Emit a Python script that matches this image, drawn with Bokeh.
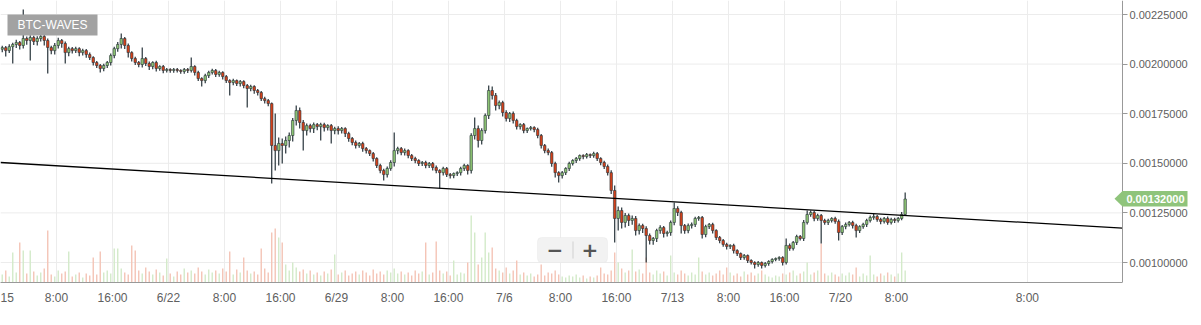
from bokeh.plotting import figure
from bokeh.models import (Range1d, FixedTicker, Label, PolyAnnotation, BoxAnnotation,
                          ColumnDataSource, PrintfTickFormatter)
from bokeh.embed import file_html
from bokeh.resources import INLINE

symbol = "BTC-WAVES"
unit = 1e-6            # prices below are in micro-BTC
first_open = 2075
closes = [
    2083, 2068, 2088, 2099, 2109, 2094, 2129, 2119, 2134, 2114,
    2129, 2139, 2119, 2084, 2068, 2094, 2119, 2104, 2058, 2078,
    2068, 2078, 2058, 2068, 2048, 2033, 2008, 1993, 1978, 1993,
    2008, 2043, 2078, 2099, 2129, 2094, 2058, 2028, 2008, 1998,
    2028, 2003, 1988, 2008, 1978, 1988, 1968, 1973, 1968, 1973,
    1968, 1963, 1973, 1968, 1988, 1958, 1927, 1917, 1942, 1958,
    1968, 1948, 1958, 1937, 1917, 1907, 1917, 1902, 1912, 1892,
    1877, 1887, 1867, 1857, 1826, 1816, 1801, 1590, 1564, 1600,
    1590, 1615, 1640, 1716, 1766, 1706, 1665, 1690, 1675, 1695,
    1685, 1695, 1680, 1690, 1665, 1675, 1665, 1675, 1650, 1625,
    1605, 1590, 1600, 1574, 1564, 1549, 1524, 1489, 1464, 1443,
    1474, 1504, 1564, 1574, 1554, 1564, 1539, 1524, 1514, 1499,
    1504, 1489, 1499, 1479, 1464, 1453, 1474, 1443, 1438, 1448,
    1453, 1474, 1489, 1464, 1640, 1675, 1615, 1665, 1741, 1867,
    1842, 1791, 1806, 1756, 1726, 1751, 1716, 1685, 1695, 1665,
    1675, 1680, 1670, 1640, 1590, 1564, 1554, 1499, 1453, 1438,
    1453, 1474, 1499, 1514, 1524, 1539, 1534, 1544, 1539, 1549,
    1524, 1504, 1484, 1453, 1363, 1222, 1262, 1202, 1237, 1212,
    1222, 1161, 1186, 1171, 1136, 1111, 1121, 1161, 1176, 1146,
    1151, 1202, 1272, 1252, 1186, 1161, 1186, 1192, 1222, 1227,
    1141, 1181, 1192, 1161, 1126, 1111, 1091, 1081, 1086, 1060,
    1045, 1025, 1035, 1010, 1000, 990, 1000, 985, 995, 1005,
    1015, 1020, 1025, 1000, 1086, 1071, 1101, 1131, 1121, 1202,
    1242, 1252, 1222, 1237, 1212, 1202, 1212, 1222, 1207, 1151,
    1181, 1192, 1202, 1186, 1161, 1181, 1192, 1212, 1227, 1232,
    1217, 1207, 1222, 1202, 1217, 1212, 1222, 1242, 1320,
]
wick_up = [
    10, 8, 12, 9, 14, 8, 146, 10, 12, 9,
    11, 15, 8, 10, 9, 12, 14, 8, 10, 9,
    8, 10, 7, 9, 8, 10, 6, 8, 7, 9,
    8, 10, 9, 12, 25, 8, 10, 7, 9, 8,
    56, 8, 10, 7, 9, 6, 8, 7, 6, 8,
    7, 6, 8, 7, 45, 6, 8, 7, 9, 8,
    9, 7, 8, 6, 8, 7, 9, 6, 8, 7,
    8, 9, 6, 8, 7, 9, 8, 5, 161, 30,
    25, 20, 15, 12, 25, 15, 12, 10, 9, 11,
    8, 10, 9, 7, 8, 9, 12, 8, 7, 9,
    8, 10, 7, 9, 8, 6, 8, 7, 9, 8,
    10, 12, 91, 9, 8, 10, 7, 8, 9, 6,
    8, 9, 7, 8, 10, 6, 9, 7, 8, 6,
    7, 8, 9, 6, 12, 56, 15, 12, 10, 25,
    20, 12, 10, 9, 12, 8, 10, 9, 7, 8,
    6, 8, 7, 9, 8, 7, 10, 8, 9, 7,
    8, 6, 9, 7, 8, 6, 7, 8, 6, 9,
    8, 7, 9, 10, 12, 25, 20, 15, 12, 10,
    15, 12, 10, 9, 12, 10, 8, 9, 12, 8,
    9, 10, 30, 12, 9, 8, 10, 9, 8, 7,
    8, 9, 7, 8, 6, 8, 7, 9, 6, 8,
    7, 6, 8, 5, 7, 6, 8, 5, 7, 6,
    6, 5, 7, 6, 35, 10, 8, 9, 7, 12,
    20, 10, 8, 9, 7, 8, 9, 6, 8, 10,
    8, 9, 7, 8, 9, 7, 8, 9, 10, 12,
    8, 9, 7, 10, 8, 9, 7, 12, 33,
]
wick_down = [
    15, 30, 12, 85, 18, 20, 15, 22, 101, 18,
    20, 15, 25, 131, 18, 20, 15, 22, 55, 18,
    15, 12, 18, 14, 16, 12, 15, 13, 20, 14,
    12, 15, 14, 16, 20, 18, 25, 15, 12, 14,
    15, 12, 18, 14, 15, 12, 14, 10, 12, 11,
    10, 12, 11, 13, 10, 15, 12, 30, 14, 12,
    11, 13, 12, 14, 12, 65, 14, 12, 15, 14,
    96, 14, 16, 15, 12, 14, 13, 192, 100, 75,
    91, 40, 35, 30, 25, 30, 101, 25, 20, 22,
    18, 70, 20, 15, 65, 18, 20, 15, 18, 16,
    14, 15, 12, 16, 14, 12, 15, 13, 14, 30,
    15, 12, 20, 18, 14, 15, 13, 12, 14, 13,
    12, 14, 13, 15, 14, 80, 14, 12, 15, 13,
    12, 14, 13, 20, 15, 20, 35, 20, 15, 18,
    20, 25, 18, 20, 15, 18, 16, 14, 15, 13,
    12, 10, 13, 14, 15, 13, 14, 16, 25, 35,
    14, 12, 13, 10, 12, 11, 13, 10, 12, 11,
    12, 14, 13, 15, 18, 121, 61, 30, 25, 28,
    22, 25, 20, 22, 136, 20, 22, 18, 16, 20,
    15, 16, 14, 18, 40, 16, 14, 15, 13, 12,
    20, 14, 12, 15, 13, 14, 12, 15, 13, 14,
    12, 13, 11, 12, 10, 20, 11, 15, 10, 12,
    10, 9, 11, 15, 10, 12, 11, 13, 10, 12,
    10, 12, 14, 11, 116, 12, 13, 11, 12, 40,
    12, 13, 11, 14, 35, 12, 11, 13, 10, 12,
    11, 14, 10, 12, 11, 13, 10, 9, 8,
]
volumes = [
    8, 12, 6, 30, 10, 40, 32, 9, 32, 11,
    7, 10, 14, 52, 8, 6, 12, 9, 11, 31,
    6, 8, 10, 5, 9, 7, 25, 8, 31, 10,
    12, 9, 34, 34, 14, 10, 8, 37, 32, 12,
    9, 15, 11, 8, 13, 10, 7, 24, 9, 6,
    11, 8, 14, 10, 12, 9, 15, 11, 8, 13,
    10, 12, 9, 14, 11, 31, 8, 13, 10, 25,
    12, 9, 11, 8, 34, 14, 10, 50, 54, 45,
    40, 18, 12, 20, 15, 11, 13, 9, 12, 8,
    10, 7, 11, 9, 13, 28, 8, 10, 12, 7,
    9, 11, 8, 12, 10, 7, 13, 9, 11, 8,
    12, 10, 14, 9, 11, 8, 10, 7, 12, 9,
    11, 40, 8, 10, 41, 12, 9, 11, 7, 22,
    8, 10, 9, 20, 67, 50, 18, 25, 50, 30,
    35, 14, 12, 10, 15, 9, 12, 22, 8, 10,
    7, 9, 6, 8, 18, 7, 10, 9, 12, 8,
    6, 5, 7, 6, 8, 5, 7, 4, 6, 5,
    7, 15, 9, 8, 12, 30, 20, 14, 10, 12,
    33, 11, 13, 9, 25, 10, 8, 12, 9, 11,
    7, 27, 10, 8, 12, 9, 7, 10, 8, 25,
    11, 8, 10, 7, 9, 12, 8, 15, 10, 7,
    9, 6, 11, 8, 10, 7, 9, 12, 8, 6,
    5, 7, 6, 9, 8, 10, 12, 7, 9, 11,
    20, 8, 10, 12, 39, 9, 7, 10, 8, 6,
    9, 7, 10, 8, 15, 6, 9, 7, 27, 8,
    6, 9, 7, 10, 8, 6, 9, 30, 12,
]
candle_step_hours = 0.5
tick_hours = [0.85, 8, 16, 24, 32, 40, 48, 56, 64, 72, 80, 88, 96, 104, 112, 120, 128, 146.7]
tick_labels = ["15", "8:00", "16:00", "6/22", "8:00", "16:00", "6/29", "8:00", "16:00",
               "7/6", "8:00", "16:00", "7/13", "8:00", "16:00", "7/20", "8:00", "8:00"]
price_ticks = [0.001, 0.00125, 0.0015, 0.00175, 0.002, 0.00225]
trend_x = [0, 160.3]
trend_y = [0.001504, 0.001173]
last_price = 0.00132

n = len(closes)
assert len(wick_up) == n and len(wick_down) == n and len(volumes) == n

opens = [first_open] + closes[:-1]
xs, hi, lo, top, bot, body_col, vol_col = [], [], [], [], [], [], []
UP, DOWN = "#8cc273", "#d2401a"
UPV, DOWNV = "#d3eac9", "#f4c4b6"
for i in range(n):
    op, cl = opens[i], closes[i]
    xs.append(candle_step_hours * (i + 0.5))
    hi.append((max(op, cl) + wick_up[i]) * unit)
    lo.append((min(op, cl) - wick_down[i]) * unit)
    top.append(max(op, cl) * unit); bot.append(min(op, cl) * unit)
    up = cl >= op
    body_col.append(UP if up else DOWN)
    vol_col.append(UPV if up else DOWNV)

src = ColumnDataSource(dict(x=xs, hi=hi, lo=lo, top=top, bot=bot, col=body_col,
                            vol=volumes, vcol=vol_col))

W, H = 1201, 325
FW, FH = 1122, 282          # price panel ends at the axis line
X0 = 0
X_AXIS = 160.3              # data x where the price axis sits
X1 = X_AXIS * W / FW        # frame spans the whole width
Y0, Y1 = 0.0008992, 0.0023206

def px(xp):
    return X0 + xp * (X_AXIS - X0) / FW

def py(yp):
    return Y1 - yp * (Y1 - Y0) / FH

p = figure(width=W, height=H, x_range=Range1d(X0, X1), y_range=Range1d(Y0, Y1),
           output_backend="svg", toolbar_location=None, y_axis_location="right",
           min_border_left=0, min_border_top=0, min_border_right=0, min_border_bottom=H - FH)
p.outline_line_color = None
p.background_fill_color = "white"
p.border_fill_color = "white"
p.extra_y_ranges = {"vol": Range1d(0, FH)}

# horizontal grid only across the price panel
p.ygrid.visible = False
p.segment(x0=[X0] * len(price_ticks), x1=[X_AXIS] * len(price_ticks),
          y0=price_ticks, y1=price_ticks, line_color="#ececec", line_width=1)

p.vbar(x="x", width=0.2, bottom=0, top="vol", source=src, y_range_name="vol",
       fill_color="vcol", line_color=None)
p.segment(x0="x", y0="lo", x1="x", y1="hi", source=src, line_color="#27333a", line_width=1.2)
p.vbar(x="x", width=0.36, top="top", bottom="bot", source=src,
       fill_color="col", line_color="#2c383d", line_width=0.6)
p.line(trend_x, trend_y, line_color="black", line_width=1.3)

# axes
xa = p.xaxis[0]
xa.ticker = FixedTicker(ticks=tick_hours)
xa.major_label_overrides = {t: l for t, l in zip(tick_hours, tick_labels)}
xa.bounds = (X0, X_AXIS)
xa.major_tick_out = 0
xa.major_tick_in = 0
xa.minor_tick_line_color = None
xa.axis_line_color = "#999999"
xa.major_label_standoff = 8
xa.major_label_text_font = "Liberation Sans"
xa.major_label_text_font_size = "12px"
xa.major_label_text_color = "#606060"

ya = p.yaxis[0]
ya.fixed_location = X_AXIS
ya.ticker = FixedTicker(ticks=price_ticks)
ya.formatter = PrintfTickFormatter(format="%.8f")
ya.major_tick_out = 5
ya.major_tick_in = 0
ya.minor_tick_line_color = None
ya.axis_line_color = "#999999"
ya.major_tick_line_color = "#999999"
ya.major_label_standoff = 2
ya.major_label_text_font = "Liberation Sans"
ya.major_label_text_font_size = "11px"
ya.major_label_text_color = "#606060"

p.xgrid.ticker = FixedTicker(ticks=tick_hours[1:])
p.xgrid.grid_line_color = "#ececec"

# symbol badge
p.add_layout(BoxAnnotation(left=px(7), right=px(97), top=py(14), bottom=py(35),
                           fill_color="#a2a2a2", fill_alpha=1, line_color=None))
p.add_layout(Label(x=px(52), y=py(24.5), text=symbol, text_align="center",
                   text_baseline="middle", text_color="white",
                   text_font="Liberation Sans", text_font_size="12px"))

# zoom control
p.add_layout(BoxAnnotation(left=px(537), right=px(607), top=py(237), bottom=py(262),
                           fill_color="#f2f2f2", fill_alpha=1, line_color="#e2e2e2",
                           border_radius=4))
p.add_layout(BoxAnnotation(left=px(572), right=px(573), top=py(241), bottom=py(258),
                           fill_color="#cfcfcf", fill_alpha=1, line_color=None))
p.add_layout(Label(x=px(554.5), y=py(249.5), text="\u2212", text_align="center",
                   text_baseline="middle", text_color="#555555", text_font_style="bold",
                   text_font="DejaVu Sans", text_font_size="20px"))
p.add_layout(Label(x=px(589.5), y=py(249.5), text="+", text_align="center",
                   text_baseline="middle", text_color="#555555", text_font_style="bold",
                   text_font="DejaVu Sans", text_font_size="20px"))

# last price tag
ly = py(198.3)
p.add_layout(PolyAnnotation(xs=[px(1114), px(1122), px(1187), px(1187), px(1122)],
                            ys=[ly, py(190.5), py(190.5), py(206), py(206)],
                            fill_color="#8fc47b", fill_alpha=1, line_color=None))
p.add_layout(Label(x=px(1155), y=ly, text="%.8f" % last_price, text_align="center",
                   text_baseline="middle", text_color="white", text_font_style="bold",
                   text_font="Liberation Sans", text_font_size="11px"))

open("out.html", "w").write(file_html(p, INLINE))
